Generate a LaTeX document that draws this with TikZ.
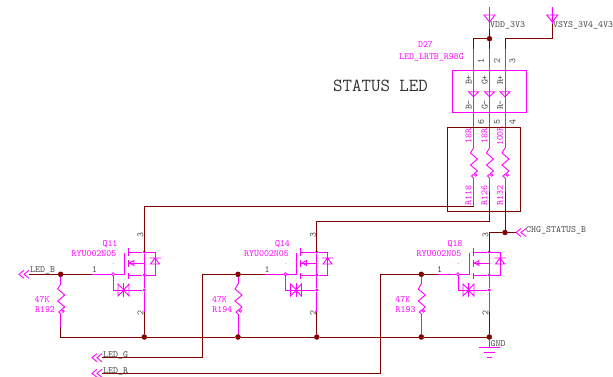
\documentclass[tikz,border=0pt]{standalone}
\usepackage{tikz}
\definecolor{wirered}{RGB}{128,0,0}
\definecolor{partpink}{RGB}{255,0,255}
\definecolor{netgray}{RGB}{70,70,70}
\tikzset{
	wire/.style={wirered,line width=0.9pt},
	part/.style={partpink,line width=0.9pt},
	junction/.style={circle,fill=wirered,draw=wirered,inner sep=0pt,minimum size=5pt},
	pinmark/.style={circle,draw=partpink,fill=white,line width=0.7pt,inner sep=0pt,minimum size=3.2pt},
	pinlabel/.style={text=netgray,font=\ttfamily\fontsize{9.5}{10}\selectfont,inner sep=0pt},
	netlabel/.style={text=netgray,font=\ttfamily\fontsize{9.5}{10}\selectfont,inner sep=0pt,anchor=west},
	partlabel/.style={text=partpink,font=\ttfamily\fontsize{9.5}{10}\selectfont,inner sep=0pt},
	pics/resv/.style={code={
		\draw[part] (0,0) -- (-3,5) -- (4,11) -- (-3,17) -- (4,23) -- (-2,28) -- (0,30);
		\node[pinmark,minimum size=2.5pt] at (2.3,27) {};
	}},
	pics/chevrons/.style={code={
		\draw[part] (5,-4) -- (0,0) -- (5,4) (10,-4) -- (5,0) -- (10,4);
	}},
	pics/supply/.style={code={
		\draw[part] (-5.5,0) -- (5.5,0) -- (0,7) -- cycle (0,-8) -- (0,7);
	}},
	pics/ledarrow/.style={code={
		\draw[part] (-5,0) -- (5,0) -- (0,5) -- cycle;
	}},
}
\begin{document}
\begin{tikzpicture}[x=1pt,y=-1pt]
	\useasboundingbox (0,0) rectangle (613,376);

	% supplies
	\pic at (489.5,15) {supply};
	\pic at (552.3,15) {supply};
	\node[netlabel] (vdd) at (490,25.5) {VDD\_3V3};
	\node[netlabel] (vsys) at (553,25.5) {VSYS\_3V4\_4V3};
	\coordinate (vddtop) at (489.5,22);
	\coordinate (vddwire) at (489.5,29);
	\coordinate (vsystop) at (552.3,22);
	\coordinate (vsyswire) at (552.3,24);
	\node[junction] (top) at (489.5,38.7) {};
	\draw[part] (vddtop) -- (vddwire);
	\draw[part] (vsystop) -- (vsyswire);
	\coordinate (ledbwire) at (473.5,49);
	\coordinate (ledgwire) at (489.5,49);
	\coordinate (ledrwire) at (505,49);
	\draw[wire] (vddwire) -- (top) -- (ledgwire);
	\draw[wire] (ledbwire) |- (top);
	\draw[wire] (ledrwire) |- (vsyswire |- top) -- (vsyswire);

	% led
	\node[draw=partpink,line width=0.9pt,minimum width=73.3pt,minimum height=42pt,inner sep=0pt] (led) at (489.4,91) {};
	\node[partlabel] (d27) at (425.5,45) {D27};
	\node[partlabel] (ledname) at (431.5,57) {LED\_LRTB\_R98G};
	\node[text=black!80,font=\ttfamily\fontsize{18.4}{18}\selectfont,inner sep=0pt] (title) at (380.5,86) {STATUS LED};
	\foreach \c/\x/\top/\bot/\lab/\low in {b/473.5/1/6/B/18R,g/489.5/2/5/G/18R,r/505/3/4/R/100R} {
		\pic at (\x,91.7) {ledarrow};
		\node[pinlabel,rotate=90] at (\x+7.5,61) {\top};
		\node[pinlabel,rotate=90] at (\x+7.5,122) {\bot};
		\node[partlabel,text=netgray,rotate=90] at (\x-4.7,80) {\lab+};
		\node[partlabel,text=netgray,rotate=90] at (\x-4.7,105) {\lab-};
		\node[partlabel,rotate=90] at (\x-5,136) {\low};
	}
	\node[partlabel,rotate=90] (r118) at (468.5,195.5) {R118};
	\node[partlabel,rotate=90] (r126) at (484.5,195.5) {R126};
	\node[partlabel,rotate=90] (r132) at (500,195.5) {R132};
	\pic at (473.5,148) {resv};
	\pic at (489.5,148) {resv};
	\pic at (505,148) {resv};
	\coordinate (rbtop) at (473.5,148);
	\coordinate (rgtop) at (489.5,148);
	\coordinate (rrtop) at (505,148);
	\coordinate (rbbot) at (473.5,178);
	\coordinate (rgbot) at (489.5,178);
	\coordinate (rrbot) at (505,178);
	\draw[part] (ledbwire) -- (rbtop) (rbbot) -- (473.5,206);
	\draw[part] (ledgwire) -- (rgtop) (rgbot) -- (489.5,191);
	\draw[part] (ledrwire) -- (rrtop) (rrbot) -- (505,191);

	% outline round the resistors
	\draw[wire,line width=1pt] (447.7,127.7) rectangle (520.7,211);

	% transistors
	\foreach \q/\s/\p/\px in {11/0/192/60.7,14/172.5/194/238,18/345/193/421.3} {
		\begin{scope}[shift={(\s,0)}]
			\coordinate (q\q d) at (144.3,252);
			\coordinate (q\q g) at (124,274.3);
			\node[part,circle,fill=partpink,inner sep=0pt,minimum size=3.4pt] (q\q dj) at (144.3,252) {};
			\node[part,circle,fill=partpink,inner sep=0pt,minimum size=3.4pt] (q\q mj) at (144.3,275) {};
			\node[part,circle,fill=partpink,inner sep=0pt,minimum size=3.4pt] (q\q sj) at (144.3,290) {};
			\node[pinmark] (q\q pin) at (113,274.3) {};
			\draw[part] (q\q pin) -- (q\q g) -- (124,253);
			\draw[part] (128.3,247.7) -- (128.3,255.7) (128.3,260) -- (128.3,266.7) (128.3,272.7) -- (128.3,279);
			\draw[part] (128.3,252) -- (q\q dj) (128.3,275) -- (q\q mj);
			\draw[part] (128.3,263) -- (144.3,263) -- (q\q mj);
			\draw[part] (129.5,263) -- (134,260.5) -- (134,265.5) -- cycle;
			\draw[part] (q\q dj) -- (155,252) -- (155,275) -- (q\q mj);
			\draw[part] (149.3,258) -- (161,258) (155,258) -- (150.5,264) -- (159.5,264) -- cycle;
			\draw[part] (q\q pin) |- (q\q sj);
			\draw[part] (q\q dj) -- (q\q sj) -- (144.3,312);
			\draw[part] (118,284) -- (118,296) -- (124,290) -- cycle (129,284) -- (129,296) -- (123.5,290) -- cycle;
			\draw[part] (123.5,283) -- (123.5,297);
			\node[partlabel] at (110,244) {Q\q};
			\node[partlabel] at (94,253.5) {RYU002N05};
			\node[partlabel,font=\ttfamily\fontsize{7}{7}\selectfont] at (113.5,264) {.};
			\node[pinlabel,rotate=90] at (140.5,235) {3};
			\node[pinlabel,rotate=90] at (140.5,313) {2};
			\node[pinlabel] at (94.5,270) {1};
		\end{scope}
		\pic at (\px,284) {resv};
		\node[partlabel] at (\px-18.5,300) {47K};
		\node[partlabel] at (\px-15.7,310) {R\p};
	}

	% gate nets
	\node[junction] (ledb) at (60.7,274.3) {};
	\node[junction] (ledg) at (238,274.3) {};
	\node[junction] (ledr) at (421.3,274.3) {};
	\coordinate (ledbend) at (29,274.3);
	\draw[wire] (ledbend) -- (ledb) -- (92,274.3);
	\draw[part] (92,274.3) -- (q11pin);
	\draw[wire] (ledg) -- (265,274.3);
	\draw[part] (265,274.3) -- (q14pin);
	\draw[wire] (ledr) -- (438,274.3);
	\draw[part] (438,274.3) -- (q18pin);
	\draw[part] (ledb) -- (60.7,284) (60.7,314) -- (60.7,327);
	\draw[part] (ledg) -- (238,284) (238,314) -- (238,337);
	\draw[part] (ledr) -- (421.3,284) (421.3,314) -- (421.3,337);

	% ground
	\node[junction] (gnda) at (144.3,337) {};
	\node[junction] (gndb) at (238,337) {};
	\node[junction] (gndc) at (316.8,337) {};
	\node[junction] (gndd) at (421.3,337) {};
	\node[junction] (gnde) at (489.3,337) {};
	\draw[wire] (60.7,327) |- (gnda) -- (gndb) -- (gndc) -- (gndd) -- (gnde);
	\draw[wire] (144.3,312) -- (gnda) (316.8,312) -- (gndc) (489.3,312) -- (gnde);
	\draw[part] (gnde) -- (489.3,347) (479,347) -- (499.5,347) (483.5,352) -- (494.5,352) (487,357) -- (491.5,357);
	\node[netlabel] (gnd) at (490.5,344) {GND};

	% led return nets
	\node[junction] (chg) at (505,232.5) {};
	\draw[wire] (505,191) -- (chg);
	\draw[wire] (489.5,191) -- (489.5,221.7) -| (q14d);
	\draw[wire] (473.5,206) -| (q11d);
	\draw[wire] (q18d) -- (489.3,232.5) -- (chg) -- (516,232.5);
	\pic at (516,232.5) {chevrons};
	\node[netlabel] (chglabel) at (526,230) {CHG\_STATUS\_B};

	% ports
	\pic at (19,274.3) {chevrons};
	\node[netlabel] (ledblabel) at (30,270) {LED\_B};
	\pic at (92,357.7) {chevrons};
	\node[netlabel] (ledglabel) at (103,355) {LED\_G};
	\coordinate (ledgend) at (102,357.7);
	\draw[wire] (ledgend) -| (202,274.3) -- (ledg);
	\pic at (92,373.3) {chevrons};
	\node[netlabel] (ledrlabel) at (103,371) {LED\_R};
	\coordinate (ledrend) at (102,373.3);
	\draw[wire] (ledrend) -| (380,274.3) -- (ledr);
\end{tikzpicture}
\end{document}
